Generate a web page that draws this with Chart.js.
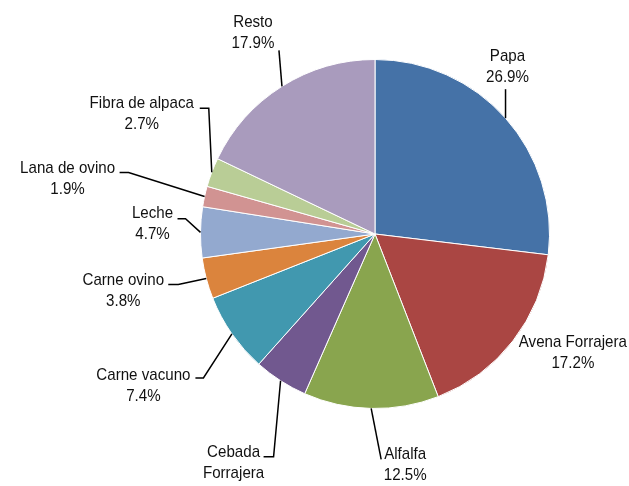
<!DOCTYPE html>
<html>
<head>
<meta charset="utf-8">
<script src="https://cdn.jsdelivr.net/npm/chart.js@4/dist/chart.umd.min.js"></script>
<style>
html,body{margin:0;padding:0;background:#fff;overflow:hidden;}
canvas{display:block;}
</style>
</head>
<body>
<canvas id="c" width="629" height="486"></canvas>
<script>
// Data
const categories = ["Papa", "Avena Forrajera", "Alfalfa", "Cebada Forrajera", "Carne vacuno", "Carne ovino", "Leche", "Lana de ovino", "Fibra de alpaca", "Resto"];
const labelLines = [["Papa"], ["Avena Forrajera"], ["Alfalfa"], ["Cebada", "Forrajera"], ["Carne vacuno"], ["Carne ovino"], ["Leche"], ["Lana de ovino"], ["Fibra de alpaca"], ["Resto"]];
const shares = [26.9, 17.2, 12.5, 5.0, 7.4, 3.8, 4.7, 1.9, 2.7, 17.9];
const colors = ["#4572A7", "#AA4643", "#89A54E", "#71588F", "#4198AF", "#DB843D", "#93A9CF", "#D19392", "#B9CD96", "#A99BBD"];

// Label layout: offsets relative to each slice's outer mid-point
// pts: leader line points after anchor; txt: centre of first text line
const labelLayout = [
  {pts: [[0, -29]], txt: [2, -62]},
  {pts: [], txt: [60, 1]},
  {pts: [[10, 51]], txt: [34, 46]},
  {pts: [[-7, 76], [-17, 76]], txt: [-47, 71.5]},
  {pts: [[-28.5, 44], [-36.5, 44]], txt: [-88.5, 41]},
  {pts: [[-28, 6], [-38, 6]], txt: [-83, 2]},
  {pts: [[-15, -13.6], [-23, -13.6]], txt: [-48, -18.6]},
  {pts: [[-76, -24], [-85, -24]], txt: [-137, -28]},
  {pts: [[-3, -64], [-12, -64]], txt: [-70, -69]},
  {pts: [[-3, -36]], txt: [-29, -64]}
];

const labelPlugin = {
  id: 'pieLabels',
  afterDatasetsDraw(chart) {
    const ctx = chart.ctx;
    const meta = chart.getDatasetMeta(0);
    const sx = 0.89;
    ctx.save();
    meta.data.forEach((arc, i) => {
      const p = arc.getProps(['x', 'y', 'startAngle', 'endAngle', 'outerRadius'], true);
      const mid = (p.startAngle + p.endAngle) / 2;
      const ax = p.x + p.outerRadius * Math.cos(mid);
      const ay = p.y + p.outerRadius * Math.sin(mid);
      const lay = labelLayout[i];
      if (lay.pts.length) {
        ctx.beginPath();
        ctx.moveTo(ax, ay);
        lay.pts.forEach(pt => ctx.lineTo(ax + pt[0], ay + pt[1]));
        ctx.strokeStyle = '#000';
        ctx.lineWidth = 1.5;
        ctx.stroke();
      }
      const lines = labelLines[i].concat([shares[i].toFixed(1) + '%']);
      ctx.fillStyle = '#111';
      ctx.font = '17px "Liberation Sans", Arial, sans-serif';
      ctx.textAlign = 'center';
      ctx.textBaseline = 'middle';
      lines.forEach((t, k) => {
        const tx = ax + lay.txt[0];
        const ty = ay + lay.txt[1] + k * 21;
        ctx.save();
        ctx.translate(tx, ty);
        ctx.scale(sx, 1);
        ctx.fillText(t, 0, 0);
        ctx.restore();
      });
    });
    ctx.restore();
  }
};

new Chart(document.getElementById('c'), {
  type: 'pie',
  data: {
    labels: categories,
    datasets: [{
      data: shares,
      backgroundColor: colors,
      borderColor: '#ffffff',
      borderWidth: 1
    }]
  },
  options: {
    responsive: false,
    devicePixelRatio: 1,
    animation: false,
    layout: {padding: {left: 200, right: 79, top: 59, bottom: 77}},
    plugins: {legend: {display: false}, tooltip: {enabled: false}}
  },
  plugins: [labelPlugin]
});
</script>
</body>
</html>
